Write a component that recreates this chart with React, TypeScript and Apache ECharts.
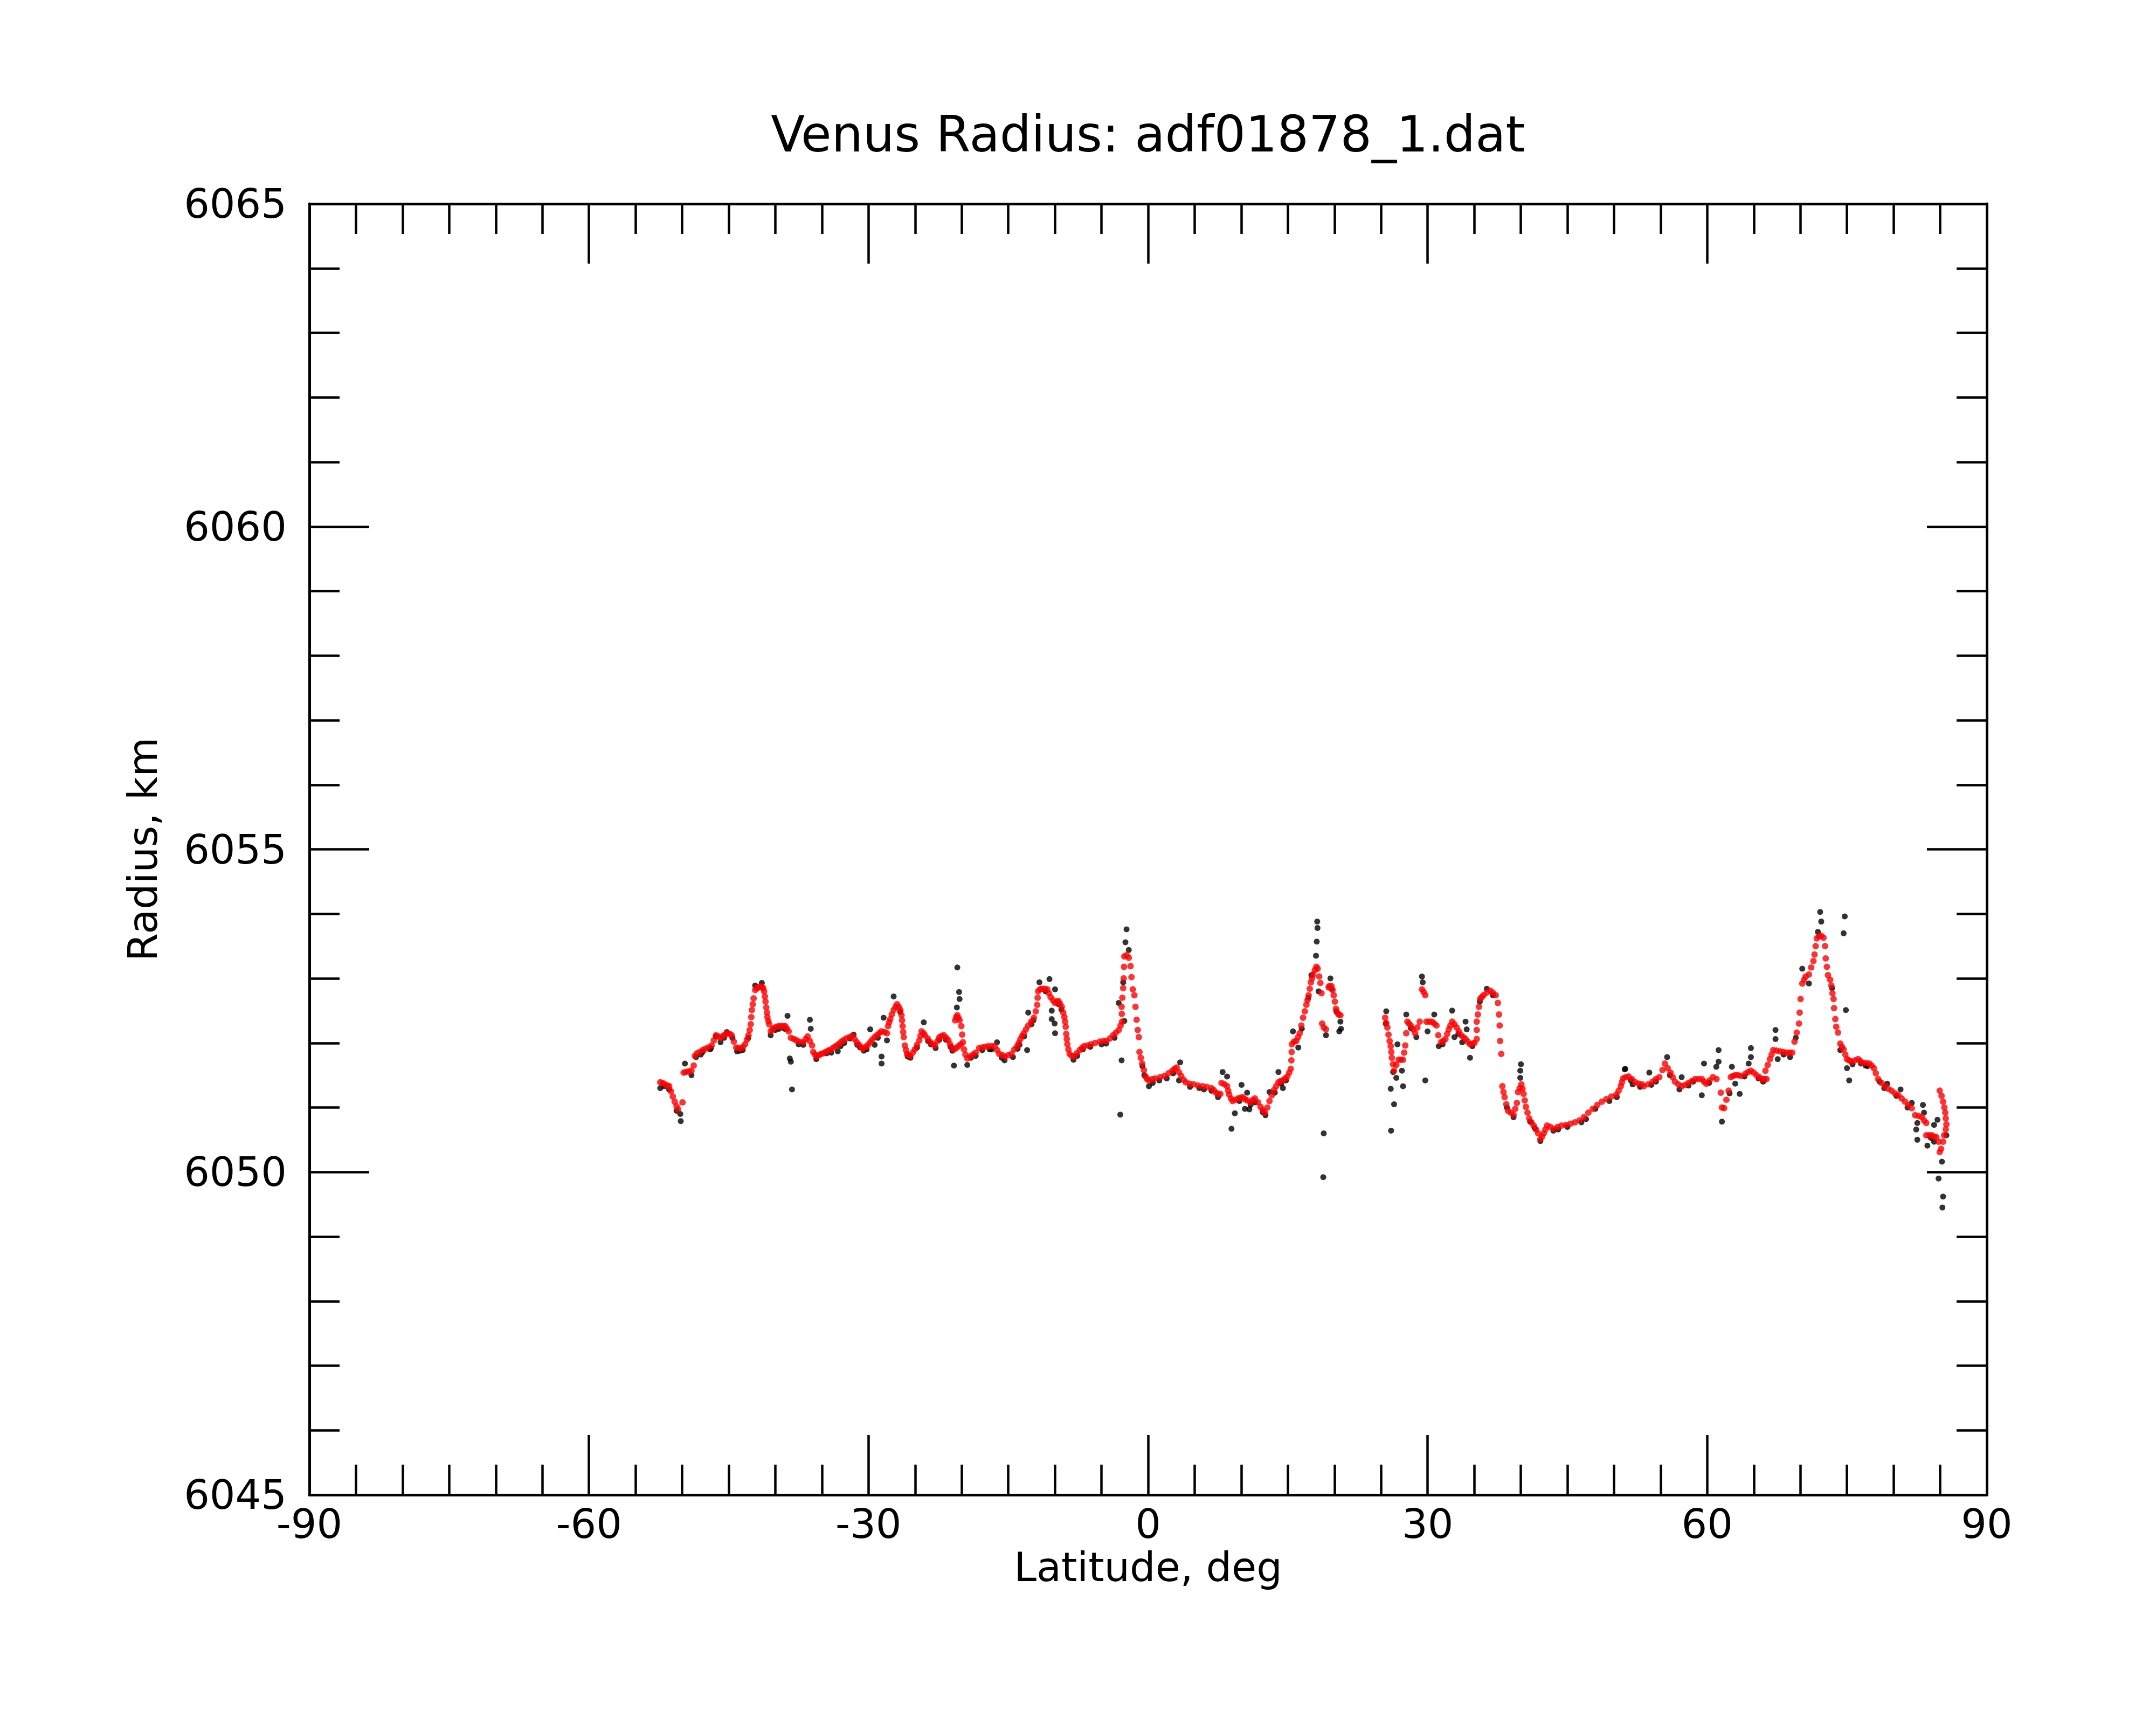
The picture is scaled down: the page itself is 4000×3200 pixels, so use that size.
import { useEffect, useRef } from "react";
import * as echarts from "echarts";

// Smoothed radius track (red), [latitude deg, radius km]
const redSouth: number[][] = [
  [-52.35,6051.39],[-52.1,6051.38],[-51.85,6051.36],[-51.6,6051.34],[-51.39,6051.33],[-51.2,6051.25],[-51.0,6051.17],[-50.8,6051.09],[-50.6,6051.02],[-50.43,6050.97],[-49.96,6051.08],[-49.84,6051.54],[-49.6,6051.55],[-49.3,6051.56],[-49.0,6051.57],[-48.76,6051.65],[-48.64,6051.8],[-48.4,6051.84],[-48.1,6051.86],[-47.8,6051.89],[-47.5,6051.91],[-47.2,6051.93],[-46.84,6051.96],[-46.6,6052.04],[-46.36,6052.12],[-46.1,6052.1],[-45.88,6052.08],[-45.6,6052.11],[-45.4,6052.13],[-45.16,6052.15],[-44.9,6052.14],[-44.68,6052.12],[-44.45,6052.02],[-44.2,6051.93],[-43.95,6051.92],[-43.72,6051.91],[-43.48,6051.94],[-43.24,6051.98],[-43.05,6052.05],[-42.88,6052.12],[-42.75,6052.2],[-42.64,6052.29],[-42.58,6052.4],[-42.52,6052.51],[-42.42,6052.6],[-42.33,6052.69],[-42.16,6052.82],[-42.0,6052.85],[-41.8,6052.86],[-41.6,6052.87],[-41.45,6052.87],[-41.3,6052.85],[-41.2,6052.8],[-41.12,6052.72],[-41.05,6052.64],[-40.97,6052.55],[-40.9,6052.47],[-40.85,6052.4],[-40.75,6052.34],[-40.66,6052.29],[-40.49,6052.18],[-40.3,6052.21],[-40.13,6052.23],[-39.9,6052.25],[-39.65,6052.26],[-39.4,6052.26],[-39.15,6052.26],[-38.93,6052.26],[-38.75,6052.22],[-38.57,6052.18],[-38.33,6052.08],[-38.0,6052.06],[-37.73,6052.04],[-37.4,6052.02],[-37.01,6052.01],[-36.75,6052.06],[-36.53,6052.1],[-36.3,6052.03],[-36.05,6051.96],[-35.93,6051.86],[-35.75,6051.82],[-35.57,6051.79],[-35.3,6051.81],[-35.1,6051.83],[-34.85,6051.84],[-34.6,6051.86],[-34.35,6051.88],[-34.13,6051.89],[-33.85,6051.92],[-33.6,6051.94],[-33.42,6051.96],[-33.15,6051.99],[-32.9,6052.02],[-32.7,6052.04],[-32.4,6052.07],[-32.05,6052.09],[-31.74,6052.11],[-31.5,6052.06],[-31.26,6052.01],[-31.0,6051.97],[-30.75,6051.93],[-30.54,6051.91],[-30.3,6051.94],[-30.05,6051.97],[-29.82,6052.01],[-29.6,6052.05],[-29.35,6052.09],[-29.1,6052.12],[-28.85,6052.15],[-28.62,6052.18],[-28.3,6052.17],[-28.02,6052.15],[-27.9,6052.26],[-27.78,6052.32],[-27.66,6052.37],[-27.5,6052.44],[-27.3,6052.51],[-27.1,6052.56],[-26.94,6052.6],[-26.75,6052.56],[-26.58,6052.51],[-26.46,6052.43],[-26.4,6052.35],[-26.34,6052.26],[-26.28,6052.17],[-26.22,6052.09],[-26.1,6051.96],[-25.98,6051.89],[-25.87,6051.83],[-25.7,6051.81],[-25.51,6051.8],[-25.25,6051.85],[-25.03,6051.9],[-24.8,6051.97],[-24.55,6052.04],[-24.42,6052.11],[-24.31,6052.18],[-24.1,6052.15],[-23.95,6052.12],[-23.65,6052.07],[-23.35,6052.01],[-23.1,6051.98],[-22.87,6051.96],[-22.6,6052.03],[-22.39,6052.09],[-22.15,6052.11],[-21.91,6052.12],[-21.65,6052.08],[-21.43,6052.04],[-21.25,6051.98],[-21.07,6051.93],[-20.83,6051.9],[-20.6,6051.92],[-20.35,6051.95],[-20.1,6051.98],[-20.71,6052.35],[-20.6,6052.4],[-20.47,6052.43],[-20.35,6052.39],[-20.23,6052.35],[-20.04,6052.26],[-19.95,6052.13],[-19.87,6052.01],[-19.75,6051.9],[-19.6,6051.82],[-19.39,6051.76],[-19.1,6051.79],[-18.79,6051.82],[-18.5,6051.85],[-18.13,6051.92],[-17.8,6051.93],[-17.5,6051.94],[-17.17,6051.95],[-16.8,6051.95],[-16.45,6051.95],[-16.2,6051.89]
];

const redMid: number[][] = [
  [-15.97,6051.83],[-15.65,6051.81],[-15.37,6051.79],[-15.0,6051.81],[-14.66,6051.83],[-14.35,6051.9],[-14.06,6051.95],[-13.88,6052.0],[-13.7,6052.06],[-13.5,6052.11],[-13.34,6052.15],[-13.1,6052.21],[-12.86,6052.27],[-12.55,6052.33],[-12.26,6052.39],[-12.05,6052.49],[-11.9,6052.59],[-11.85,6052.7],[-11.8,6052.8],[-11.6,6052.83],[-11.42,6052.84],[-11.1,6052.84],[-10.82,6052.83],[-10.64,6052.77],[-10.46,6052.71],[-10.2,6052.66],[-9.98,6052.62],[-9.8,6052.64],[-9.62,6052.65],[-9.45,6052.61],[-9.26,6052.56],[-9.1,6052.47],[-8.98,6052.4],[-8.9,6052.33],[-8.84,6052.25],[-8.78,6052.14],[-8.72,6052.06],[-8.66,6051.98],[-8.55,6051.9],[-8.42,6051.83],[-8.2,6051.8],[-7.94,6051.79],[-7.65,6051.84],[-7.34,6051.89],[-7.1,6051.92],[-6.87,6051.95],[-6.5,6051.96],[-6.15,6051.98],[-5.7,6052.0],[-5.19,6052.02],[-4.8,6052.03],[-4.47,6052.03],[-4.1,6052.07],[-3.75,6052.12],[-3.45,6052.16],[-3.15,6052.2],[-2.95,6052.27],[-2.79,6052.33],[-2.82,6052.45],[-2.84,6052.56],[-2.76,6052.7],[-2.67,6052.85],[-2.62,6053.0],[-2.58,6053.18],[-2.55,6053.34],[-2.3,6053.36],[-2.07,6053.32],[-1.88,6053.19],[-1.78,6053.02],[-1.64,6052.83],[-1.47,6052.74],[-1.35,6052.56],[-1.23,6052.36],[-1.11,6052.2],[-0.99,6052.09],[-0.92,6051.86],[-0.78,6051.77],[-0.63,6051.68],[-0.45,6051.58],[-0.27,6051.48],[-0.1,6051.44],[0.09,6051.42],[0.45,6051.44],[0.8,6051.45],[1.3,6051.47],[1.76,6051.49],[2.2,6051.53],[2.6,6051.57],[2.85,6051.6],[3.08,6051.62],[3.3,6051.55],[3.56,6051.49],[3.8,6051.43],[4.04,6051.39],[4.45,6051.37],[4.88,6051.36],[5.35,6051.34],[5.84,6051.33],[6.3,6051.32],[6.8,6051.3],[7.05,6051.27],[7.28,6051.23],[7.5,6051.21],[7.76,6051.21],[7.88,6051.38],[8.2,6051.36],[8.48,6051.33],[8.6,6051.26],[8.71,6051.2],[8.9,6051.14],[9.07,6051.1],[9.4,6051.12],[9.67,6051.14],[9.9,6051.15],[10.15,6051.16],[10.4,6051.13],[10.63,6051.11],[10.99,6051.08],[11.25,6051.12],[11.47,6051.14],[11.8,6051.08],[12.07,6051.01],[12.3,6050.96],[12.55,6050.92],[12.8,6051.0],[13.03,6051.1],[13.27,6051.19],[13.51,6051.27],[13.75,6051.33],[13.99,6051.39],[14.23,6051.41],[14.47,6051.42],[14.7,6051.45],[14.95,6051.48],[15.15,6051.54],[15.31,6051.6],[15.38,6051.73],[15.41,6051.86],[15.43,6051.98],[15.65,6052.02],[15.91,6052.03],[16.1,6052.09],[16.27,6052.15],[16.45,6052.27],[16.63,6052.39],[16.82,6052.49],[16.99,6052.59],[17.1,6052.66],[17.23,6052.74],[17.35,6052.84],[17.47,6052.94],[17.6,6053.0],[17.71,6053.06],[17.9,6053.13],[18.06,6053.18],[18.2,6053.15],[18.37,6053.03],[18.49,6052.93],[18.61,6052.77],[18.68,6052.3],[18.85,6052.24],[19.09,6052.21],[19.38,6052.86],[19.45,6052.88],[19.68,6052.88],[19.8,6052.82],[19.92,6052.74],[20.04,6052.64],[20.16,6052.53],[20.3,6052.47],[20.45,6052.44],[20.64,6052.43]
];

const redNorth: number[][] = [
  [25.44,6052.39],[25.56,6052.31],[25.68,6052.24],[25.8,6052.13],[25.92,6052.03],[26.04,6051.95],[26.1,6051.86],[26.16,6051.77],[26.28,6051.67],[26.4,6051.57],[26.64,6051.66],[26.88,6051.74],[27.12,6051.74],[27.36,6051.74],[27.48,6051.85],[27.6,6051.96],[27.7,6052.15],[27.83,6052.33],[28.0,6052.3],[28.19,6052.27],[28.43,6052.21],[28.67,6052.15],[28.9,6052.24],[29.15,6052.33],[29.39,6052.83],[29.57,6052.79],[29.75,6052.74],[29.87,6052.33],[30.17,6052.33],[30.47,6052.33],[30.71,6052.3],[30.95,6052.27],[31.14,6052.12],[31.43,6052.01],[31.67,6052.03],[31.91,6052.06],[32.1,6052.14],[32.27,6052.21],[32.45,6052.27],[32.63,6052.33],[32.87,6052.29],[33.11,6052.24],[33.35,6052.18],[33.59,6052.12],[33.83,6052.09],[34.07,6052.06],[34.3,6052.02],[34.55,6051.98],[34.8,6051.99],[35.03,6052.0],[35.27,6052.06],[35.27,6052.2],[35.27,6052.33],[35.39,6052.44],[35.51,6052.56],[35.63,6052.68],[35.81,6052.71],[35.99,6052.74],[36.35,6052.78],[36.71,6052.81],[37.0,6052.78],[37.31,6052.74],[37.54,6052.62],[37.66,6052.44],[37.73,6052.27],[37.78,6052.03],[37.9,6051.83],[38.02,6051.33],[38.14,6051.24],[38.26,6051.16],[38.44,6051.05],[38.62,6050.95],[38.92,6050.92],[39.22,6050.89],[39.4,6050.98],[39.58,6051.07],[39.7,6051.24],[39.88,6051.3],[40.06,6051.36],[40.18,6051.29],[40.3,6051.21],[40.42,6051.11],[40.54,6051.01],[40.72,6050.92],[40.9,6050.83],[41.14,6050.77],[41.38,6050.72],[41.62,6050.66],[41.86,6050.6],[42.1,6050.51],[42.28,6050.55],[42.46,6050.6],[42.64,6050.66],[42.82,6050.72],[43.17,6050.7],[43.53,6050.67],[43.95,6050.7],[44.37,6050.72],[44.85,6050.73],[45.33,6050.75],[45.81,6050.77],[46.29,6050.8],[46.77,6050.85],[47.25,6050.92],[47.73,6050.98],[48.21,6051.04],[48.69,6051.09],[49.17,6051.13],[49.71,6051.17],[50.25,6051.2],[50.5,6051.26],[50.73,6051.33],[50.85,6051.39],[50.97,6051.45],[51.27,6051.47],[51.57,6051.48],[51.92,6051.44],[52.28,6051.39],[52.64,6051.37],[53.0,6051.36]
];

const redPolar: number[][] = [
  [53.19,6051.33],[53.67,6051.36],[54.15,6051.4],[54.5,6051.44],[54.86,6051.47],[55.2,6051.58],[55.46,6051.68],[55.76,6051.61],[56.06,6051.54],[56.3,6051.47],[56.54,6051.4],[56.9,6051.36],[57.26,6051.33],[57.62,6051.35],[57.98,6051.38],[58.34,6051.41],[58.7,6051.44],[59.06,6051.44],[59.42,6051.44],[59.66,6051.4],[59.9,6051.37],[60.26,6051.42],[60.62,6051.47],[61.0,6051.44],[61.46,6051.23],[61.58,6051.0],[61.82,6050.99],[62.06,6051.12],[62.3,6051.26],[62.53,6051.47],[62.77,6051.49],[63.01,6051.5],[63.31,6051.5],[63.61,6051.49],[64.09,6051.52],[64.39,6051.55],[64.69,6051.57],[64.99,6051.54],[65.29,6051.5],[65.59,6051.47],[65.89,6051.44],[66.13,6051.44],[66.37,6051.44],[66.25,6051.57],[66.49,6051.66],[66.73,6051.75],[66.91,6051.82],[67.09,6051.89],[67.45,6051.88],[67.81,6051.87],[68.17,6051.86],[68.53,6051.85],[68.83,6051.85],[69.13,6051.85],[69.37,6052.02],[69.61,6052.16],[69.85,6052.3],[69.92,6052.47],[70.02,6052.68],[70.21,6052.92],[70.4,6052.98],[70.56,6053.03],[70.92,6053.06],[71.16,6053.17],[71.4,6053.27],[71.52,6053.37],[71.64,6053.5],[71.76,6053.62],[72.0,6053.65],[72.24,6053.66],[72.48,6053.63],[72.65,6053.5],[72.72,6053.31],[72.84,6053.18],[72.96,6053.05],[73.2,6052.98],[73.32,6052.89],[73.44,6052.77],[73.56,6052.68],[73.61,6052.54],[73.75,6052.37],[73.85,6052.25],[74.04,6052.16],[74.28,6051.99],[74.46,6051.94],[74.64,6051.9],[74.82,6051.82],[75.0,6051.75],[75.24,6051.73],[75.48,6051.71],[75.84,6051.73],[76.2,6051.75],[76.44,6051.72],[76.68,6051.69],[77.04,6051.69],[77.4,6051.68],[77.64,6051.65],[77.88,6051.61],[78.1,6051.53],[78.35,6051.44],[78.71,6051.38],[79.07,6051.33],[79.43,6051.29],[79.79,6051.26],[80.15,6051.22],[80.51,6051.19],[80.87,6051.14],[81.23,6051.09],[81.59,6051.04],[81.95,6050.99],[82.31,6050.88],[82.67,6050.87],[83.03,6050.85],[83.27,6050.8],[83.51,6050.76],[83.51,6050.57],[83.81,6050.57],[84.11,6050.57],[84.35,6050.55],[84.59,6050.54],[84.83,6050.47],[84.95,6050.31],[85.1,6050.36],[85.31,6050.47],[85.43,6050.57],[85.6,6050.66],[85.67,6050.74],[85.6,6050.83],[85.55,6050.92],[85.45,6051.0],[85.31,6051.09],[85.15,6051.18],[84.95,6051.26]
];

// Raw radius samples (black), [latitude deg, radius km]
const blackSouth: number[][] = [
  [-52.35,6051.3],[-51.9,6051.33],[-51.4,6051.28],[-50.6,6050.95],[-50.2,6050.9],[-50.15,6050.79],[-49.7,6051.68],[-49.0,6051.5],[-48.5,6051.78],[-48.0,6051.82],[-47.8,6051.86],[-47.0,6051.9],[-46.9,6051.92],[-46.4,6052.1],[-45.88,6052.01],[-45.5,6052.08],[-45.2,6052.17],[-44.6,6052.08],[-44.1,6051.87],[-43.8,6051.88],[-43.5,6051.89],[-42.9,6052.08],[-42.16,6052.89],[-41.45,6052.93],[-40.5,6052.12],[-40.0,6052.2],[-39.6,6052.22],[-39.0,6052.22],[-38.69,6052.42],[-38.45,6051.76],[-38.33,6051.71],[-38.21,6051.28],[-37.5,6051.98],[-37.0,6051.97],[-36.29,6052.36],[-36.2,6052.22],[-35.6,6051.75],[-34.5,6051.84],[-34.0,6051.85],[-33.3,6051.87],[-33.0,6051.95],[-32.6,6052.0],[-32.0,6052.07],[-31.6,6052.13],[-31.2,6051.97],[-30.9,6051.93],[-30.5,6051.88],[-30.2,6051.9],[-29.82,6052.21],[-29.34,6051.97],[-29.0,6052.08],[-28.6,6051.79],[-28.6,6051.68],[-28.38,6052.39],[-28.02,6052.04],[-27.3,6052.72],[-26.6,6052.48],[-25.8,6051.79],[-25.5,6051.77],[-24.8,6051.93],[-24.07,6052.32],[-23.6,6052.03],[-23.3,6051.98],[-22.8,6051.92],[-22.4,6052.05],[-21.7,6052.05],[-21.2,6051.94],[-21.0,6051.88],[-20.83,6051.65],[-20.52,6052.55],[-20.47,6053.17],[-20.28,6052.79],[-20.23,6052.68],[-19.4,6051.66],[-19.0,6051.77],[-18.5,6051.8],[-17.8,6051.89],[-17.0,6051.9],[-16.8,6051.9],[-16.21,6052.01],[-15.4,6051.73],[-14.5,6051.78]
];

const blackMid: number[][] = [
  [-15.7,6051.77],[-14.0,6051.91],[-13.8,6051.97],[-13.3,6052.1],[-12.98,6051.89],[-12.86,6052.47],[-12.5,6052.29],[-12.3,6052.35],[-11.66,6052.94],[-11.0,6052.8],[-10.58,6052.99],[-10.34,6052.5],[-10.34,6052.37],[-10.03,6052.3],[-9.98,6052.83],[-9.98,6052.15],[-9.6,6052.6],[-9.3,6052.52],[-8.0,6051.74],[-7.6,6051.8],[-7.0,6051.9],[-6.2,6051.94],[-5.0,6051.98],[-4.5,6051.99],[-3.6,6052.08],[-3.15,6052.62],[-2.98,6050.89],[-2.84,6051.73],[-2.67,6052.94],[-2.55,6052.34],[-2.43,6053.56],[-2.31,6053.76],[-2.07,6053.44],[-0.6,6051.64],[-0.4,6051.5],[0.09,6051.33],[0.5,6051.38],[1.2,6051.42],[2.0,6051.45],[2.7,6051.53],[3.32,6051.42],[3.44,6051.7],[4.5,6051.32],[5.5,6051.3],[6.0,6051.28],[6.8,6051.26],[7.5,6051.16],[8.0,6051.55],[8.48,6051.48],[8.95,6050.67],[9.31,6050.91],[9.8,6051.1],[10.03,6051.35],[10.39,6050.98],[10.63,6051.23],[10.87,6050.97],[11.0,6051.04],[11.5,6051.08],[12.3,6050.93],[12.6,6050.88],[13.03,6051.24],[13.6,6051.23],[13.99,6051.55],[14.3,6051.37],[14.47,6051.3],[14.8,6051.42],[15.55,6052.18],[16.12,6051.93],[16.5,6052.22],[17.2,6052.7],[17.53,6053.05],[18.15,6053.88],[18.18,6053.78],[18.1,6053.57],[18.02,6053.35],[18.3,6052.8],[18.85,6050.6],[18.8,6049.92],[19.09,6052.12],[19.57,6053.0],[19.7,6052.84],[20.2,6052.49],[20.52,6052.18],[20.64,6052.33],[20.7,6052.22]
];

const blackNorth: number[][] = [
  [25.56,6052.49],[25.5,6052.3],[26.04,6051.29],[26.4,6051.05],[26.08,6050.64],[26.3,6051.55],[26.64,6051.46],[27.36,6051.33],[27.24,6051.57],[26.76,6051.98],[27.71,6052.44],[28.2,6052.23],[28.79,6052.09],[29.39,6053.03],[29.47,6052.94],[29.75,6051.42],[29.99,6052.18],[30.71,6052.44],[31.19,6051.95],[31.6,6051.98],[32.63,6052.5],[32.87,6052.09],[33.3,6052.14],[33.71,6052.01],[34.07,6052.33],[34.19,6052.21],[34.55,6051.77],[34.8,6051.95],[35.6,6052.64],[36.35,6052.84],[37.0,6052.74],[38.5,6051.0],[39.22,6050.85],[39.94,6051.46],[39.94,6051.57],[40.01,6051.67],[41.0,6050.78],[41.5,6050.68],[42.1,6050.48],[43.5,6050.64],[44.0,6050.66],[45.0,6050.7],[46.5,6050.77],[47.0,6050.82],[48.0,6050.98],[49.5,6051.1],[50.3,6051.16],[51.15,6051.59],[51.21,6051.6],[51.8,6051.42],[52.0,6051.36],[52.8,6051.32]
];

const blackPolar: number[][] = [
  [53.79,6051.54],[54.0,6051.35],[54.5,6051.4],[55.7,6051.78],[56.0,6051.5],[57.02,6051.28],[57.26,6051.47],[58.0,6051.34],[58.5,6051.4],[59.42,6051.19],[59.66,6051.68],[60.2,6051.38],[60.98,6051.63],[61.22,6051.89],[61.22,6051.71],[61.58,6050.78],[62.4,6051.22],[62.65,6051.63],[63.01,6051.37],[63.49,6051.21],[64.0,6051.48],[64.45,6051.68],[64.69,6051.78],[64.69,6051.92],[65.5,6051.45],[66.0,6051.4],[67.33,6052.2],[67.33,6052.06],[67.57,6051.75],[68.2,6051.82],[68.89,6051.78],[69.5,6052.08],[70.2,6053.15],[70.92,6052.92],[71.88,6053.72],[72.12,6054.03],[72.24,6053.88],[73.4,6052.85],[74.28,6051.89],[74.64,6053.7],[74.76,6053.96],[74.88,6052.51],[75.0,6051.61],[75.24,6051.42],[75.6,6051.67],[76.5,6051.68],[77.0,6051.65],[77.2,6051.64],[78.5,6051.4],[79.0,6051.3],[79.31,6051.37],[80.3,6051.18],[80.75,6051.28],[81.5,6051.0],[81.95,6051.07],[82.43,6050.66],[82.55,6050.76],[82.55,6050.5],[83.15,6051.04],[83.27,6050.92],[83.63,6050.41],[84.0,6050.53],[84.35,6050.73],[84.35,6050.47],[84.71,6050.81],[85.19,6050.16],[84.83,6049.9],[85.31,6049.62],[85.24,6049.45],[85.67,6050.57]
];

const latRange = [-90, 90];
const latStep = 30;
const radiusRange = [6045, 6065];
const radiusStep = 5;

const TITLE = "Venus Radius: adf01878_1.dat";
const X_NAME = "Latitude, deg";
const Y_NAME = "Radius, km";

const FONT = "DejaVu Sans";

function axisBase(minorSplit: number) {
  return {
    axisLine: { show: true, onZero: false, lineStyle: { color: "#000", width: 5 } },
    axisTick: { show: true, inside: true, length: 111, lineStyle: { color: "#000", width: 4.5 } },
    minorTick: { show: true, splitNumber: minorSplit, length: 56, lineStyle: { color: "#000", width: 4.5 } },
    splitLine: { show: false },
    minorSplitLine: { show: false },
  };
}

export default function App() {
  const ref = useRef<HTMLDivElement>(null);
  useEffect(() => {
    if (!ref.current) return;
    const chart = echarts.init(ref.current, undefined, { renderer: "svg" });
    const labelStyle = { color: "#000", fontSize: 75, fontFamily: FONT };
    const xCommon = {
      type: "value" as const,
      min: latRange[0],
      max: latRange[1],
      interval: latStep,
      ...axisBase(6),
    };
    const yCommon = {
      type: "value" as const,
      min: radiusRange[0],
      max: radiusRange[1],
      interval: radiusStep,
      ...axisBase(5),
    };
    chart.setOption({
      animation: false,
      backgroundColor: "#fff",
      grid: { left: 574, top: 378, width: 3112, height: 2395, containLabel: false },
      graphic: [
        {
          type: "text",
          x: 2130,
          y: 249,
          style: {
            text: TITLE,
            fontSize: 92,
            fontFamily: FONT,
            fill: "#000",
            textAlign: "center",
            textVerticalAlign: "middle",
            align: "center",
            verticalAlign: "middle",
          },
        },
      ],
      xAxis: [
        {
          ...xCommon,
          position: "bottom",
          name: X_NAME,
          nameLocation: "middle",
          nameGap: 96,
          nameTextStyle: { ...labelStyle },
          axisLabel: { ...labelStyle, margin: 16, formatter: (v: number) => String(v) },
        },
        {
          ...xCommon,
          position: "top",
          axisLabel: { show: false },
        },
      ],
      yAxis: [
        {
          ...yCommon,
          position: "left",
          name: Y_NAME,
          nameLocation: "middle",
          nameGap: 272,
          nameRotate: 90,
          nameTextStyle: { ...labelStyle },
          axisLabel: { ...labelStyle, margin: 42, formatter: (v: number) => String(v) },
        },
        {
          ...yCommon,
          position: "right",
          axisLabel: { show: false },
        },
      ],
      series: [
        {
          type: "scatter",
          xAxisIndex: 0,
          yAxisIndex: 0,
          data: [...blackSouth, ...blackMid, ...blackNorth, ...blackPolar],
          symbol: "circle",
          symbolSize: 11,
          itemStyle: { color: "#000000" },
          silent: true,
          z: 2,
        },
        {
          type: "scatter",
          xAxisIndex: 0,
          yAxisIndex: 0,
          data: [...redSouth, ...redMid, ...redNorth, ...redPolar],
          symbol: "circle",
          symbolSize: 12,
          itemStyle: { color: "#ff0000" },
          silent: true,
          z: 3,
        },
      ],
    });
    return () => chart.dispose();
  }, []);
  return (
    <div
      ref={ref}
      style={{ position: "absolute", left: 0, top: 0, width: 4000, height: 3200, background: "#fff" }}
    />
  );
}
